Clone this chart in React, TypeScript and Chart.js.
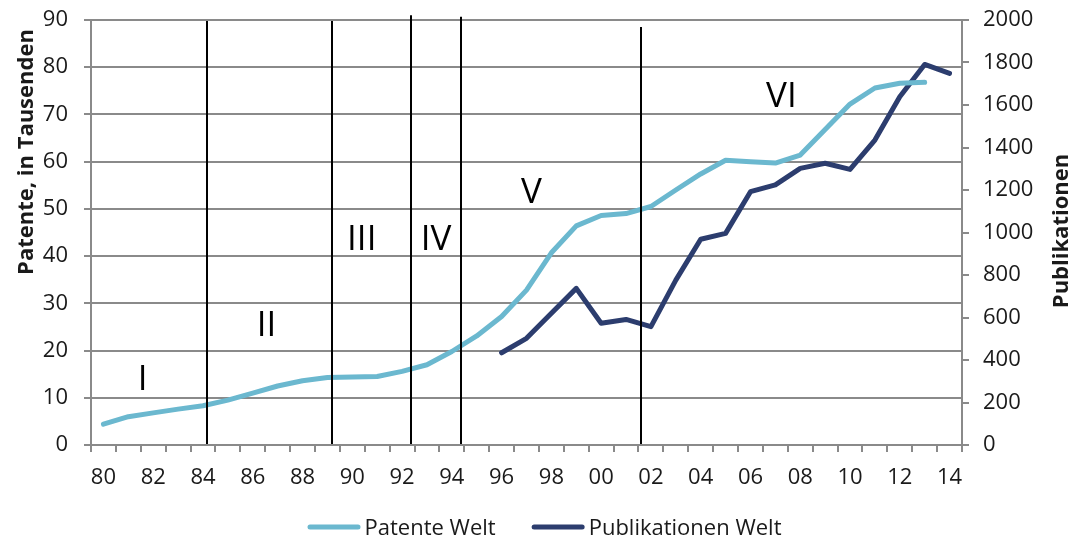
import React, { useEffect, useRef } from 'react';
import { Chart, registerables } from 'chart.js';

Chart.register(...registerables);

// ---- Data ----
const years = [
  1980, 1981, 1982, 1983, 1984, 1985, 1986, 1987, 1988, 1989,
  1990, 1991, 1992, 1993, 1994, 1995, 1996, 1997, 1998, 1999,
  2000, 2001, 2002, 2003, 2004, 2005, 2006, 2007, 2008, 2009,
  2010, 2011, 2012, 2013, 2014,
];
const yearLabels = [
  '80', '81', '82', '83', '84', '85', '86', '87', '88', '89',
  '90', '91', '92', '93', '94', '95', '96', '97', '98', '99',
  '00', '01', '02', '03', '04', '05', '06', '07', '08', '09',
  '10', '11', '12', '13', '14',
];
// Patente Welt, in Tausenden (1980–2013)
const patenteWelt = [
  4.4, 6.0, 6.8, 7.6, 8.3, 9.5, 11.0, 12.5, 13.6, 14.3,
  14.4, 14.5, 15.6, 17.0, 19.8, 23.1, 27.2, 32.8, 40.7, 46.4,
  48.6, 49.0, 50.5, 54.0, 57.4, 60.3, 60.0, 59.7, 61.4, 66.8,
  72.2, 75.6, 76.6, 76.8,
];
// Publikationen Welt (1996–2014)
const publikationenStartYear = 1996;
const publikationenWelt = [
  434, 502, 620, 737, 573, 591, 557, 776, 968, 996,
  1192, 1224, 1302, 1326, 1297, 1435, 1639, 1791, 1749,
];
const seriesNames = ['Patente Welt', 'Publikationen Welt'];
const seriesColors = ['#6bb8cf', '#2c3d6e'];

const leftTicks = { min: 0, max: 90, step: 10 };
const rightTicks = { min: 0, max: 2000, step: 200 };
const leftTitle = 'Patente, in Tausenden';
const rightTitle = 'Publikationen';

// Phase boundaries (year) and their upper ends (left axis units)
const phaseBoundaryYears = [1984.15, 1989.2, 1992.35, 1994.35, 2001.6];
const phaseBoundaryTops = [89.8, 89.8, 91.0, 90.7, 88.5];
const phaseBoundaryBottom = 0.2;
// Phase labels: year (x) and baseline value (left axis)
const phaseLabels = ['I', 'II', 'III', 'IV', 'V', 'VI'];
const phaseLabelYears = [1981.58, 1986.55, 1990.38, 1993.37, 1997.2, 2007.24];
const phaseLabelValues = [11.65, 23.1, 41.3, 41.4, 51.2, 71.5];

const FONT = '"Open Sans", "DejaVu Sans", sans-serif';
const TEXT_COLOR = '#1a1a1a';
const AXIS_COLOR = '#8a8a8a';

const overlayPlugin = {
  id: 'overlay',
  afterDatasetsDraw(chart: any) {
    const { ctx, scales } = chart;
    const x = scales.x;
    const y = scales.y;
    ctx.save();
    ctx.strokeStyle = '#000';
    ctx.lineWidth = 2;
    phaseBoundaryYears.forEach((yr, i) => {
      const px = Math.round(x.getPixelForValue(yr - years[0]));
      ctx.beginPath();
      ctx.moveTo(px, y.getPixelForValue(phaseBoundaryTops[i]));
      ctx.lineTo(px, y.getPixelForValue(phaseBoundaryBottom));
      ctx.stroke();
    });
    ctx.fillStyle = '#000';
    ctx.font = `35px ${FONT}`;
    ctx.textAlign = 'center';
    ctx.textBaseline = 'alphabetic';
    phaseLabels.forEach((t, i) => {
      ctx.fillText(
        t,
        x.getPixelForValue(phaseLabelYears[i] - years[0]),
        y.getPixelForValue(phaseLabelValues[i])
      );
    });
    ctx.restore();
  },
  afterDraw(chart: any) {
    const { ctx } = chart;
    ctx.save();
    // Axis titles (both read bottom-to-top)
    ctx.fillStyle = TEXT_COLOR;
    ctx.font = `bold 22px ${FONT}`;
    ctx.textAlign = 'center';
    ctx.textBaseline = 'alphabetic';
    ctx.save();
    ctx.translate(33, 152);
    ctx.rotate(-Math.PI / 2);
    ctx.fillText(leftTitle, 0, 0);
    ctx.restore();
    ctx.save();
    ctx.translate(1068, 231);
    ctx.rotate(-Math.PI / 2);
    ctx.fillText(rightTitle, 0, 0);
    ctx.restore();

    // Legend
    ctx.font = `22px ${FONT}`;
    const sampleLen = 53;
    const gap = 4;
    const itemGap = 36;
    const datasets = chart.data.datasets;
    const widths = datasets.map(
      (d: any) => sampleLen + gap + ctx.measureText(d.label).width
    );
    const total =
      widths.reduce((a: number, b: number) => a + b, 0) + itemGap * (widths.length - 1);
    let cx = chart.width / 2 + 6 - total / 2;
    const ly = 527;
    datasets.forEach((d: any, i: number) => {
      ctx.strokeStyle = d.borderColor;
      ctx.lineWidth = 5;
      ctx.lineCap = 'round';
      ctx.beginPath();
      ctx.moveTo(cx + 2.5, ly);
      ctx.lineTo(cx + sampleLen - 2.5, ly);
      ctx.stroke();
      ctx.fillStyle = TEXT_COLOR;
      ctx.textAlign = 'left';
      ctx.textBaseline = 'alphabetic';
      ctx.fillText(d.label, cx + sampleLen + gap, ly + 8);
      cx += widths[i] + itemGap;
    });
    ctx.restore();
  },
};

export default function App() {
  const canvasRef = useRef<HTMLCanvasElement | null>(null);

  useEffect(() => {
    const canvas = canvasRef.current;
    if (!canvas) return;
    const patData = years.map((_, i) => (i < patenteWelt.length ? patenteWelt[i] : null));
    const pubData = years.map((yr) =>
      yr >= publikationenStartYear ? publikationenWelt[yr - publikationenStartYear] ?? null : null
    );
    const chart = new Chart(canvas, {
      type: 'line',
      data: {
        labels: yearLabels,
        datasets: [
          {
            label: seriesNames[0],
            data: patData,
            yAxisID: 'y',
            borderColor: seriesColors[0],
            backgroundColor: seriesColors[0],
            borderWidth: 5,
            borderCapStyle: 'round',
            borderJoinStyle: 'round',
            pointRadius: 0,
            tension: 0,
            spanGaps: false,
          },
          {
            label: seriesNames[1],
            data: pubData,
            yAxisID: 'y1',
            borderColor: seriesColors[1],
            backgroundColor: seriesColors[1],
            borderWidth: 5,
            borderCapStyle: 'round',
            borderJoinStyle: 'round',
            pointRadius: 0,
            tension: 0,
            spanGaps: false,
          },
        ],
      },
      options: {
        animation: false,
        responsive: true,
        maintainAspectRatio: false,
        layout: { padding: { top: 20, left: 0, right: 0, bottom: 0 } },
        plugins: {
          legend: { display: false },
          tooltip: { enabled: false },
        },
        scales: {
          x: {
            type: 'category',
            offset: true,
            grid: {
              offset: true,
              drawOnChartArea: false,
              drawTicks: true,
              tickLength: 7,
              color: AXIS_COLOR,
              lineWidth: 2,
            },
            border: { display: true, color: AXIS_COLOR, width: 2 },
            ticks: {
              autoSkip: false,
              maxRotation: 0,
              minRotation: 0,
              padding: 13,
              color: TEXT_COLOR,
              font: { family: FONT, size: 22 },
              callback: (_v: any, i: number) => (i % 2 === 0 ? yearLabels[i] : ''),
            },
            afterFit: (s: any) => {
              s.height = 97;
            },
          },
          y: {
            type: 'linear',
            position: 'left',
            min: leftTicks.min,
            max: leftTicks.max,
            grid: {
              drawOnChartArea: true,
              drawTicks: true,
              tickLength: 7,
              color: AXIS_COLOR,
              lineWidth: 2,
            },
            border: { display: true, color: AXIS_COLOR, width: 2 },
            ticks: {
              stepSize: leftTicks.step,
              padding: 16,
              color: TEXT_COLOR,
              font: { family: FONT, size: 22 },
            },
            afterFit: (s: any) => {
              s.width = 91;
              s.paddingTop = 12;
              s.paddingBottom = 12;
            },
          },
          y1: {
            type: 'linear',
            position: 'right',
            min: rightTicks.min,
            max: rightTicks.max,
            grid: {
              drawOnChartArea: false,
              drawTicks: true,
              tickLength: 7,
              color: AXIS_COLOR,
              lineWidth: 2,
            },
            border: { display: true, color: AXIS_COLOR, width: 2 },
            ticks: {
              stepSize: rightTicks.step,
              padding: 14,
              color: TEXT_COLOR,
              font: { family: FONT, size: 22 },
              callback: (v: any) => String(v),
            },
            afterFit: (s: any) => {
              s.width = 115;
              s.paddingTop = 12;
              s.paddingBottom = 12;
            },
          },
        },
      },
      plugins: [overlayPlugin],
    });
    return () => chart.destroy();
  }, []);

  return (
    <div style={{ position: 'fixed', left: 0, top: 0, width: 1077, height: 542, background: '#fff' }}>
      <canvas ref={canvasRef} />
    </div>
  );
}
